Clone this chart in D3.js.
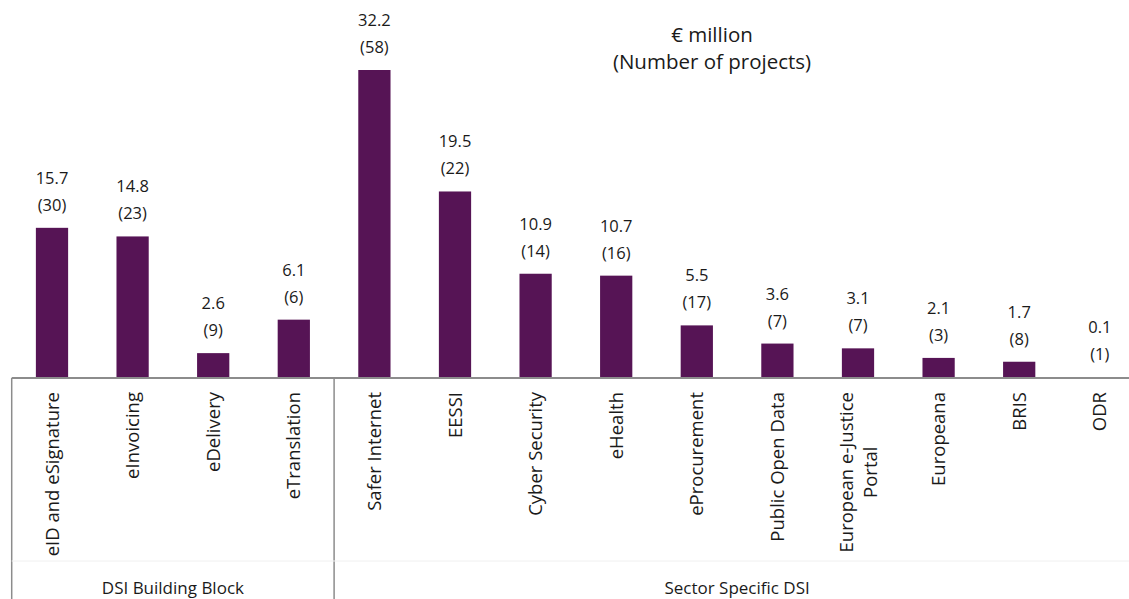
<!DOCTYPE html>
<html><head><meta charset="utf-8">
<script src="https://cdn.jsdelivr.net/npm/d3@7"></script>
<style>body{margin:0;background:#fff;overflow:hidden}svg{display:block}text{font-family:"Open Sans","Noto Sans",sans-serif;fill:#1a1a1a}</style>
</head><body>
<svg id="c" width="1129" height="599"></svg>
<script>
const categories = ["eID and eSignature","eInvoicing","eDelivery","eTranslation","Safer Internet","EESSI","Cyber Security","eHealth","eProcurement","Public Open Data","European e-Justice Portal","Europeana","BRIS","ODR"];
const values = [15.7,14.8,2.6,6.1,32.2,19.5,10.9,10.7,5.5,3.6,3.1,2.1,1.7,0.1];
const projects = [30,23,9,6,58,22,14,16,17,7,7,3,8,1];
const groups = [{name:"DSI Building Block", start:0, end:4},{name:"Sector Specific DSI", start:4, end:14}];
const title = ["€ million","(Number of projects)"];

const svg = d3.select("#c");
const plotLeft = 11.7, plotRight = 1140.1, base = 378, plotTop = 70;
const x = d3.scaleBand().domain(categories).range([plotLeft,plotRight]).paddingInner(0.6).paddingOuter(0.3);
const y = d3.scaleLinear().domain([0,32.2]).range([base,plotTop]);
const color = "#561455";

svg.selectAll("rect.bar").data(categories).enter().append("rect")
  .attr("x", d=>x(d)).attr("width", x.bandwidth())
  .attr("y", (d,i)=>y(values[i])).attr("height",(d,i)=>base-y(values[i]))
  .attr("fill", color);

const lab = svg.selectAll("g.lab").data(categories).enter().append("g")
  .attr("transform",(d,i)=>`translate(${x(d)+x.bandwidth()/2},${y(values[i])})`);
lab.append("text").attr("text-anchor","middle").attr("y",-44).attr("font-size",16.5).text((d,i)=>values[i].toFixed(1));
lab.append("text").attr("text-anchor","middle").attr("y",-17).attr("font-size",16.5).text((d,i)=>`(${projects[i]})`);

const step = x.step();
// axis line
svg.append("line").attr("x1",plotLeft).attr("x2",plotRight).attr("y1",base).attr("y2",base).attr("stroke","#8c8c8c").attr("stroke-width",2);
// group separators
[plotLeft, plotLeft + 4*step].forEach(b=>svg.append("line").attr("x1",b).attr("x2",b).attr("y1",base).attr("y2",599).attr("stroke","#8c8c8c").attr("stroke-width",1.5));
svg.append("line").attr("x1",plotLeft).attr("x2",plotRight).attr("y1",561).attr("y2",561).attr("stroke","#f0f0f0").attr("stroke-width",1);

// category labels
const wrapMap = {"European e-Justice Portal":["European e-Justice","Portal"]};
categories.forEach((c,i)=>{
  const cx = x(c)+x.bandwidth()/2;
  const lines = wrapMap[c] || [c];
  const n = lines.length;
  const g = svg.append("g").attr("transform",`translate(${cx},392) rotate(-90)`);
  const ts = lines.map((l,j)=>g.append("text").attr("font-size",18.5).attr("text-anchor","middle")
      .attr("y",(j-(n-1)/2)*24 + 6.5).text(l));
  const w = d3.max(ts, t=>t.node().getComputedTextLength());
  ts.forEach(t=>t.attr("x",-w/2));
});

// group labels
groups.forEach(g=>{
  const x0 = plotLeft + g.start*step, x1 = plotLeft + g.end*step;
  svg.append("text").attr("x",(x0+x1)/2).attr("y",594).attr("text-anchor","middle").attr("font-size",17).text(g.name);
});

// title
title.forEach((t,i)=>svg.append("text").attr("x",712).attr("y",42+i*27).attr("text-anchor","middle").attr("font-size",20.5).text(t));
</script>
</body></html>
